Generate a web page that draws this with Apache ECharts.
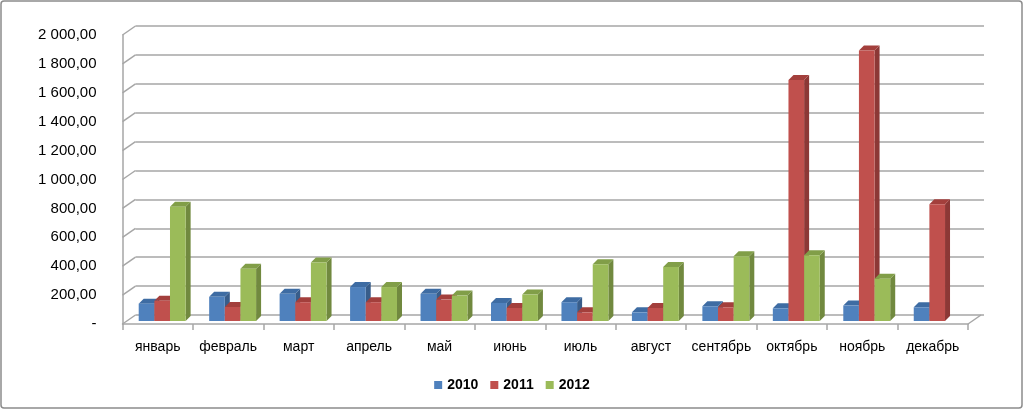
<!DOCTYPE html>
<html lang="ru">

<head>
    <meta charset="UTF-8">
    <title>chart</title>
    <style>
        body { margin: 0; }
        #chart { width: 1024px; height: 411px; }
    </style>
    <script src="https://cdn.jsdelivr.net/npm/echarts@6/dist/echarts.min.js"></script>
</head>

<body>
    <div id="chart"></div>
    <script>
        var months = ['январь', 'февраль', 'март', 'апрель', 'май', 'июнь', 'июль', 'август', 'сентябрь', 'октябрь', 'ноябрь', 'декабрь'];
        var years = ['2010', '2011', '2012'];
        var v2010 = [120, 167, 188, 235, 188, 125, 130, 60, 102, 88, 107, 95];
        var v2011 = [140, 97, 130, 130, 148, 90, 60, 90, 95, 1668, 1872, 808];
        var v2012 = [790, 362, 404, 235, 176, 183, 392, 374, 448, 455, 293, 0];
        var yTicks = [0, 200, 400, 600, 800, 1000, 1200, 1400, 1600, 1800, 2000];
        var yTickLabels = ['-', '200,00', '400,00', '600,00', '800,00', '1 000,00', '1 200,00', '1 400,00', '1 600,00', '1 800,00', '2 000,00'];

        // front, side, top colours per year
        var faces = [
            ['#4F81BD', '#385D8A', '#3E6CA3'],
            ['#C0504D', '#8C3836', '#A33F3C'],
            ['#9BBB59', '#71893F', '#819E48']
        ];
        var DX = 5, DY = -5;   // depth of a bar
        var WX = 13, WY = -9;  // depth of the walls

        var myChart = echarts.init(document.getElementById('chart'));

        function barItem(si) {
            return function (params, api) {
                var v = api.value(1);
                if (!v) return;
                var cat = api.value(0);
                var base = api.coord([cat, 0]);
                var top = api.coord([cat, v]);
                var catW = api.size([1, 0])[0];
                var bw = catW * 0.222;
                var x0 = base[0] - catW * 0.27 + si * bw;
                var x1 = x0 + bw;
                var yb = base[1] - 3, yt = top[1] - 3;
                var c = faces[si];
                return {
                    type: 'group',
                    children: [{
                        type: 'polygon',
                        shape: { points: [[x1, yb], [x1 + DX, yb + DY], [x1 + DX, yt + DY], [x1, yt]] },
                        style: { fill: c[1] }
                    }, {
                        type: 'polygon',
                        shape: { points: [[x0, yt], [x0 + DX, yt + DY], [x1 + DX, yt + DY], [x1, yt]] },
                        style: { fill: c[2] }
                    }, {
                        type: 'rect',
                        shape: { x: x0, y: yt, width: bw, height: yb - yt },
                        style: { fill: c[0] }
                    }]
                };
            };
        }

        // short slanted lines joining the front axis to the back wall
        function wallItem(params, api) {
            var sys = params.coordSys;
            var y = api.coord([0, api.value(1)])[1];
            var kids = [{
                type: 'line',
                shape: { x1: sys.x, y1: y, x2: sys.x + WX, y2: y + WY },
                style: { stroke: '#a6a6a6', lineWidth: 1.5 }
            }];
            if (api.value(1) === 0) {
                kids.push({
                    type: 'line',
                    shape: { x1: sys.x + sys.width, y1: y, x2: sys.x + sys.width + WX, y2: y + WY },
                    style: { stroke: '#a6a6a6', lineWidth: 1.5 }
                });
            }
            return { type: 'group', children: kids };
        }

        var seriesData = [v2010, v2011, v2012];
        var series = seriesData.map(function (arr, si) {
            return {
                name: years[si],
                type: 'custom',
                xAxisIndex: 0,
                yAxisIndex: 0,
                z: 5,
                itemStyle: { color: faces[si][0] },
                renderItem: barItem(si),
                data: arr.map(function (v, i) { return [i, v]; })
            };
        });
        series.push({
            type: 'custom',
            xAxisIndex: 0,
            yAxisIndex: 0,
            z: 1,
            silent: true,
            renderItem: wallItem,
            data: yTicks.map(function (v) { return [0, v]; })
        });

        var option = {
            backgroundColor: '#fff',
            animation: false,
            textStyle: { fontFamily: 'Liberation Sans Narrow, Liberation Sans, sans-serif' },
            graphic: [{
                type: 'rect',
                shape: { x: 1, y: 1, width: 1021, height: 407, r: 3 },
                style: { fill: 'none', stroke: '#8c8c8c', lineWidth: 1.5 },
                z: 0
            }],
            legend: {
                data: years,
                left: 'center',
                top: 373,
                icon: 'rect',
                itemWidth: 8,
                itemHeight: 8,
                itemGap: 12,
                textStyle: { fontSize: 14, fontWeight: 'bold', color: '#000' }
            },
            grid: [
                { left: 122.5, right: 56, top: 35, bottom: 87 },
                { left: 135.5, right: 40, top: 26, bottom: 96 }
            ],
            xAxis: [{
                type: 'category',
                gridIndex: 0,
                data: months,
                axisLine: { lineStyle: { color: '#a6a6a6', width: 1.5 } },
                axisTick: { show: true, length: 6, lineStyle: { color: '#a6a6a6', width: 1.5 } },
                axisLabel: { color: '#000', fontSize: 14, margin: 16, interval: 0 }
            }, {
                type: 'category',
                gridIndex: 1,
                data: months,
                show: false
            }],
            yAxis: [{
                type: 'value',
                gridIndex: 0,
                min: 0,
                max: 2000,
                interval: 200,
                axisLine: { show: true, lineStyle: { color: '#a6a6a6', width: 1.5 } },
                axisTick: { show: false },
                splitLine: { show: false },
                axisLabel: {
                    color: '#000',
                    fontSize: 15,
                    margin: 26,
                    formatter: function (v) { return yTickLabels[yTicks.indexOf(v)]; }
                }
            }, {
                type: 'value',
                gridIndex: 1,
                min: 0,
                max: 2000,
                interval: 200,
                axisLine: { show: false },
                axisTick: { show: false },
                axisLabel: { show: false },
                splitLine: { show: true, lineStyle: { color: '#a6a6a6', width: 1.5 } }
            }],
            series: series
        };
        myChart.setOption(option);
    </script>
</body>

</html>
